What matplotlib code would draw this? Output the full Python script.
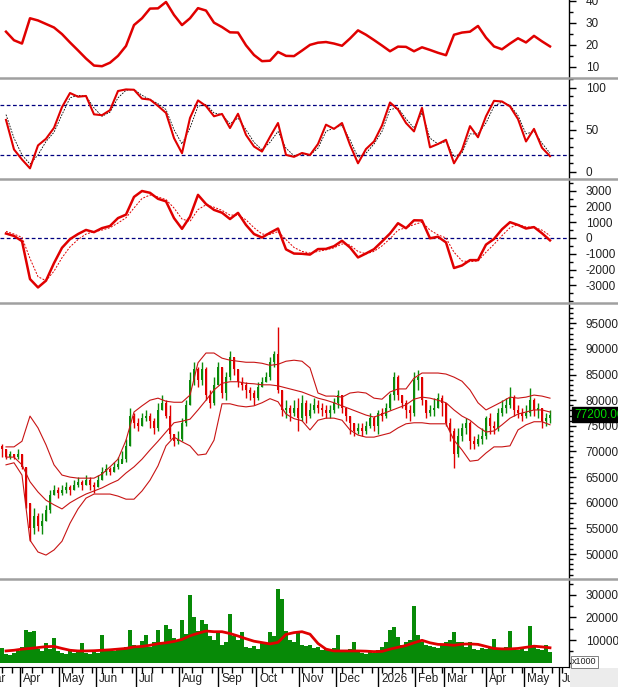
import numpy as np
import matplotlib
matplotlib.use("Agg")
import matplotlib.pyplot as plt
import matplotlib.transforms as mtransforms
from matplotlib.lines import Line2D
from matplotlib.patches import Rectangle
from matplotlib.ticker import MultipleLocator, FixedLocator

plt.rcParams['font.family'] = ['Liberation Sans', 'DejaVu Sans']
plt.rcParams['axes.unicode_minus'] = False

W, H = 618, 687

# one bar = two trading days, Mar 2025 .. May 2026
close = [
    70500, 69000, 69500, 69000, 69500, 67000, 60000, 55000, 57500, 55500,
    56500, 58500, 61500, 62500, 62000, 62500, 63000, 62500, 63500, 64000,
    63500, 64500, 63500, 63000, 64500, 66000, 66500, 66000, 67000, 67500,
    68500, 71000, 77000, 75500, 75000, 76500, 77000, 76000, 74500, 78000,
    79500, 77000, 73500, 72000, 72500, 75500, 79000, 84000, 86000, 84000,
    86000, 81000, 79500, 83000, 86500, 81500, 84500, 88500, 86000, 83500,
    83000, 82000, 81500, 80500, 82500, 83500, 84500, 87500, 89000, 82000,
    78000, 78500, 77500, 78500, 76500, 79500, 77000, 78000, 79000, 78500,
    78000, 77500, 78000, 79500, 81000, 78500, 77000, 75500, 74000, 74500,
    74000, 75000, 76500, 75000, 77500, 77000, 78500, 81000, 84500, 81000,
    79500, 78000, 77500, 84000, 84500, 80000, 77500, 78000, 78500, 80500,
    79500, 75500, 74000, 69500, 73000, 74500, 75500, 72000, 71500, 72500,
    73000, 76500, 75000, 74500, 77500, 78500, 79000, 80500, 78000, 77500,
    77000, 77500, 80000, 78000, 78500, 76000, 76500, 77200,
]
high = [
    71500, 70500, 70000, 69500, 70500, 69500, 67000, 60000, 59000, 58000,
    58000, 59500, 62500, 63500, 63000, 63500, 64000, 63500, 64500, 65000,
    64500, 65500, 65000, 64000, 65500, 67000, 67500, 67000, 68000, 69000,
    70000, 72500, 78500, 77500, 76500, 77500, 78000, 77500, 76500, 79500,
    81000, 80000, 79000, 73500, 74000, 76500, 80000, 85500, 87500, 86500,
    87500, 86500, 82000, 84500, 87500, 86500, 85500, 89500, 88500, 86000,
    84500, 83500, 82500, 82000, 83500, 84500, 85500, 88500, 89500, 94300,
    82000, 80000, 79000, 80000, 80500, 81000, 80000, 79500, 80500, 80000,
    79500, 79000, 79000, 80500, 82000, 81000, 78500, 77000, 75500, 75500,
    75500, 76000, 77500, 77000, 78000, 78500, 79500, 81500, 85500, 85000,
    81000, 80000, 79000, 85500, 85800, 84500, 80000, 79000, 80500, 81500,
    81000, 79500, 76500, 74500, 74500, 75500, 76500, 76000, 73000, 73500,
    74500, 77000, 77500, 76000, 78500, 80000, 80500, 82500, 81000, 79000,
    78500, 79000, 82300, 80500, 79500, 78500, 77500, 78000,
]
low = [
    69000, 68500, 68500, 68500, 68500, 66500, 59000, 52500, 54000, 54500,
    54000, 56500, 58000, 61500, 61000, 61500, 62000, 61500, 62500, 63000,
    62500, 63500, 62500, 62000, 63000, 64500, 65500, 65500, 66000, 66500,
    68000, 68000, 71000, 74500, 74000, 75000, 76000, 74500, 73500, 74000,
    78000, 76500, 72500, 71000, 71500, 72000, 75000, 79000, 83000, 82500,
    83000, 80000, 78500, 79000, 83000, 80500, 80000, 84000, 85000, 82500,
    82000, 80500, 80000, 79000, 80000, 82500, 83500, 84000, 86500, 81500,
    77000, 76500, 76000, 77000, 74000, 76000, 75500, 76500, 77500, 77500,
    77000, 76500, 76500, 77500, 78500, 77500, 76000, 73500, 73000, 73500,
    73000, 73500, 74500, 74000, 73500, 76000, 76500, 78000, 80000, 80000,
    78500, 76500, 76000, 77000, 82000, 79000, 76500, 77000, 77000, 78500,
    77000, 75000, 72000, 66800, 69000, 72000, 73500, 70500, 70500, 71000,
    71500, 72500, 73500, 73500, 74000, 77000, 77500, 78500, 77000, 76500,
    76000, 76500, 77000, 77000, 76500, 74500, 75000, 75500,
]
volume = [
    6500, 4000, 3500, 4500, 5000, 7000, 14400, 13500, 14000, 6000,
    5000, 8500, 6000, 10900, 5000, 4500, 4000, 5500, 4500, 5000,
    8800, 4500, 4000, 5000, 4500, 12200, 5500, 6000, 5000, 6500,
    5500, 7000, 14400, 8000, 7500, 9500, 12200, 7000, 9000, 14400,
    9000, 16600, 15000, 11000, 10000, 18800, 12500, 29800, 20000, 14000,
    18800, 17300, 12000, 10000, 13000, 8000, 9000, 21700, 12000, 10000,
    13700, 7000, 6500, 7500, 6000, 9000, 8500, 13700, 12000, 32800,
    28000, 14000, 10000, 9000, 13000, 8000, 7500, 8000, 6500, 7000,
    5500, 6000, 5000, 6500, 12200, 5500, 5000, 6000, 9200, 5000,
    4500, 4000, 5000, 4500, 5500, 7000, 9000, 14400, 15900, 11400,
    8000, 9000, 10000, 25000, 12200, 9000, 8000, 7500, 7000, 6500,
    8000, 9000, 10000, 13700, 9000, 9200, 7000, 9200, 6000, 5500,
    6500, 6000, 7000, 10400, 6000, 5500, 7000, 14100, 6000, 5500,
    6000, 5000, 16300, 7000, 6000, 5500, 8000, 4800,
]

# indicator lines, sampled every second bar (bars 1, 3, ..., 137)
bb_upper = [
    70900, 70900, 72000, 76900, 74600, 71300, 67400, 65400, 65000, 64800,
    64800, 64800, 65600, 67000, 68500, 72200, 77700, 78900, 80000, 80400,
    79800, 79600, 79600, 81000, 87300, 89200, 89200, 88200, 87800, 87600,
    87400, 87400, 87200, 86800, 87000, 87600, 87800, 87600, 86300, 81400,
    80800, 80800, 80600, 81400, 81600, 81400, 80400, 80200, 81600, 82200,
    82200, 84300, 85300, 85300, 85300, 85100, 84500, 83700, 82000, 79500,
    78100, 78900, 79700, 80600, 80400, 80600, 81000, 80800, 80400,
]
bb_mid = [
    68900, 68900, 67400, 64100, 62100, 60500, 59600, 58800, 60000, 60900,
    61700, 62300, 62900, 63700, 64400, 65800, 67000, 68500, 70300, 72000,
    73800, 75600, 75900, 76300, 78100, 80000, 82000, 83300, 83600, 83600,
    83300, 83200, 83000, 83000, 82800, 82400, 82000, 81600, 81000, 80400,
    80000, 79500, 78900, 78300, 77700, 77100, 76700, 77300, 77900, 78500,
    79100, 80200, 80600, 80400, 80000, 79500, 78100, 76900, 76100, 74800,
    73800, 74000, 75200, 76500, 77300, 77700, 78100, 78100, 77700,
]
bb_lower = [
    67400, 67800, 65400, 52700, 50400, 49800, 50800, 52500, 56000, 58800,
    60900, 61700, 61700, 61700, 61300, 60700, 60700, 62300, 64400, 67200,
    71100, 72800, 71900, 71100, 69300, 69500, 72200, 79300, 79300, 78900,
    78700, 78900, 79500, 80300, 79700, 77300, 76400, 76000, 74200, 76100,
    76500, 76500, 76100, 74200, 73200, 72800, 72800, 73200, 73600, 74600,
    75400, 75600, 75600, 75400, 75400, 75400, 72200, 70300, 68100, 68300,
    69700, 70900, 70900, 71100, 74200, 75200, 75800, 75800, 75200,
]
adx = [
    25.9, 22.0, 20.5, 32.0, 31.0, 29.4, 27.8, 24.8, 21.0, 17.4,
    13.7, 10.5, 10.2, 11.8, 14.9, 19.4, 28.9, 32.0, 36.4, 36.5,
    39.4, 33.5, 28.9, 32.0, 36.6, 35.5, 30.0, 28.0, 25.6, 25.5,
    19.7, 15.3, 12.5, 12.7, 16.7, 14.9, 14.8, 17.3, 19.9, 20.9,
    21.2, 20.5, 19.5, 22.8, 26.5, 24.5, 22.1, 19.6, 17.0, 19.1,
    19.0, 17.0, 18.8, 17.6, 16.3, 15.2, 24.5, 25.5, 25.9, 28.5,
    23.2, 19.2, 17.9, 20.5, 22.9, 21.0, 24.0, 21.5, 19.2,
]
stoch_k = [
    61.7, 26.5, 14.5, 4.0, 31.3, 39.2, 52.2, 76.9, 93.7, 89.3,
    90.2, 68.3, 67.3, 73.3, 96.1, 98.0, 97.6, 87.0, 85.9, 78.4,
    70.0, 40.0, 22.0, 64.0, 84.9, 78.2, 66.0, 68.8, 52.0, 69.0,
    43.8, 30.0, 24.0, 41.5, 58.0, 20.0, 17.7, 22.3, 19.9, 33.0,
    56.0, 51.0, 58.0, 32.0, 10.0, 27.0, 36.0, 55.0, 82.4, 74.0,
    58.0, 48.0, 76.0, 29.0, 33.0, 38.0, 10.0, 26.0, 54.3, 41.0,
    66.0, 84.4, 83.6, 77.8, 62.7, 36.0, 51.0, 28.5, 18.5,
]
stoch_d = [
    68, 40, 20, 9, 20, 36, 47, 68, 88, 91,
    90, 76, 66, 71, 88, 97, 98, 91, 86, 81,
    74, 50, 33, 52, 78, 80, 70, 68, 57, 64,
    50, 35, 26, 35, 48, 28, 19, 21, 20, 28,
    48, 52, 55, 38, 17, 22, 33, 48, 74, 76,
    63, 52, 70, 40, 33, 36, 18, 22, 45, 45,
    58, 78, 83, 79, 67, 45, 48, 34, 22,
]
macd = [
    283, 130, -200, -2600, -3130, -2700, -1590, -620, -70, 250,
    510, 370, 625, 760, 1261, 1480, 2600, 2975, 2860, 2480,
    2320, 1260, 580, 1350, 2730, 2150, 1780, 1600, 1200, 1590,
    826, 250, 30, 330, 600, -720, -985, -1000, -1050, -700,
    -690, -520, -175, -600, -1230, -980, -710, -220, 283, 935,
    620, 1120, 1110, -20, 80, -280, -1900, -1740, -1400, -1400,
    -420, -60, 550, 1000, 826, 600, 690, 300, -150,
]
macd_signal = [
    420, 250, 40, -1300, -2450, -2700, -2100, -1250, -560, -100,
    250, 400, 500, 650, 950, 1280, 1900, 2500, 2720, 2600,
    2430, 1900, 1200, 1050, 1800, 2100, 1950, 1750, 1450, 1450,
    1150, 650, 250, 230, 400, -100, -600, -850, -950, -850,
    -750, -620, -380, -450, -850, -1000, -850, -500, -50, 500,
    650, 850, 1000, 500, 200, 0, -900, -1450, -1500, -1450,
    -900, -400, 150, 650, 850, 700, 680, 500, 150,
]
vol_ma = [
    5200, 5500, 6000, 6300, 6700, 7100, 7200, 6300, 5500, 5200,
    5200, 5300, 5500, 5700, 6000, 6300, 7000, 7200, 7700, 8400,
    8800, 9400, 10300, 11900, 13000, 14000, 13700, 13700, 12900, 11800,
    10600, 9500, 8900, 8300, 9000, 12500, 13300, 13700, 12600, 8500,
    6000, 5200, 5200, 5200, 5200, 5100, 4900, 5000, 6000, 6800,
    7600, 8800, 9900, 8800, 8100, 8000, 7700, 8200, 8300, 8100,
    7200, 6300, 6100, 6100, 6300, 6800, 7300, 7000, 6600,
]

month_labels = ['Mar', 'Apr', 'May', 'Jun', 'Jul', 'Aug', 'Sep', 'Oct', 'Nov',
                'Dec', '2026', 'Feb', 'Mar', 'Apr', 'May', 'Jun']
month_pos = [-5.0, 4.5, 14.25, 23.5, 33.5, 44.25, 54.0, 63.5, 74.25, 83.5,
             94.0, 103.25, 110.5, 121.0, 130.5, 139.25]
last_price = 77200

RED = '#e00000'
GREEN = '#0a8a0a'
NAVY = '#000080'
XLIM = (-0.5, 141.75)

x = np.arange(len(close))
xs = np.arange(1, len(close), 2)
opens = [71000] + close[:-1]

fig = plt.figure(figsize=(W / 100, H / 100), dpi=100)
fig.patch.set_facecolor('white')


def panel(top, bottom):
    ax = fig.add_axes([0, 1 - bottom / H, 569 / W, (bottom - top) / H])
    for s in ('left', 'top', 'bottom'):
        ax.spines[s].set_visible(False)
    ax.spines['right'].set_color('black')
    ax.spines['right'].set_linewidth(1)
    ax.set_xticks([])
    ax.yaxis.tick_right()
    ax.tick_params(axis='y', which='major', direction='out', length=5, width=1,
                   pad=7, labelsize=8.5, labelcolor='#202020')
    ax.tick_params(axis='y', which='minor', direction='out', length=3, width=1)
    return ax


ax1 = panel(0, 77)
ax2 = panel(79, 178)
ax3 = panel(180, 302)
ax4 = panel(304, 578)
ax5 = panel(580, 667)

# ADX
ax1.plot(xs, adx, color=RED, lw=1.8)
ax1.set_ylim(5.3, 40.3)
ax1.yaxis.set_major_locator(FixedLocator([10, 20, 30, 40]))
ax1.yaxis.set_minor_locator(MultipleLocator(5))

# Stochastic
ax2.axhline(80, color=NAVY, lw=0.9, ls=(0, (3, 2)))
ax2.axhline(20, color=NAVY, lw=0.9, ls=(0, (3, 2)))
ax2.plot(xs, stoch_d, color='black', lw=0.6, ls=(0, (2, 1.5)))
ax2.plot(xs, stoch_k, color=RED, lw=1.5)
ax2.set_ylim(-7.5, 110.4)
ax2.yaxis.set_major_locator(FixedLocator([0, 50, 100]))
ax2.yaxis.set_minor_locator(MultipleLocator(10))

# MACD
ax3.axhline(0, color=NAVY, lw=0.9, ls=(0, (3, 2)))
ax3.plot(xs, macd_signal, color=RED, lw=0.7, ls=(0, (2, 1.5)))
ax3.plot(xs, macd, color=RED, lw=1.8)
ax3.set_ylim(-4051, 3671)
ax3.yaxis.set_major_locator(FixedLocator(range(-3000, 3001, 1000)))
ax3.yaxis.set_minor_locator(MultipleLocator(500))

# price with Bollinger bands
colors = [GREEN if c > o else RED for o, c in zip(opens, close)]
ax4.vlines(x, low, high, colors=colors, lw=1)
body_lo = np.minimum(opens, close)
body_h = np.maximum(np.abs(np.array(close) - np.array(opens)), 150)
ax4.bar(x, body_h, bottom=body_lo, width=0.5, color=colors, linewidth=0)
for band in (bb_upper, bb_mid, bb_lower):
    ax4.plot(xs, band, color='#c81414', lw=0.8)
ax4.set_ylim(45330, 98760)
ax4.yaxis.set_major_locator(FixedLocator(range(50000, 95001, 5000)))
ax4.yaxis.set_minor_locator(MultipleLocator(1000))
tag = mtransforms.blended_transform_factory(fig.transFigure, ax4.transData)
ax4.text(574 / W, last_price, '%.2f' % last_price, transform=tag, color='#00dd00',
         fontsize=8.5, va='center', ha='left', clip_on=False, zorder=10,
         bbox=dict(boxstyle='square,pad=0.15', fc='black', ec='black'))

# volume
ax5.bar(x, volume, width=0.92, color='#078a07', linewidth=0)
ax5.plot(xs, vol_ma, color=RED, lw=2)
ax5.set_ylim(-1900, 36560)
ax5.yaxis.set_major_locator(FixedLocator([10000, 20000, 30000]))
ax5.yaxis.set_minor_locator(MultipleLocator(5000))
ax5.spines['bottom'].set_visible(True)
ax5.spines['bottom'].set_color('black')
ax5.set_xticks(month_pos)
ax5.set_xticklabels([])
ax5.set_xticks(np.arange(-5, 141, 2.5), minor=True)
ax5.tick_params(axis='x', which='major', direction='out', length=15, width=1)
ax5.tick_params(axis='x', which='minor', direction='out', length=4, width=1)
dt = mtransforms.blended_transform_factory(ax5.transData, fig.transFigure)
for pos, lab in zip(month_pos, month_labels):
    ax5.text(pos + 0.8, 1 - 679 / H, lab, transform=dt, fontsize=8.5,
             color='#202020', ha='left', va='center', clip_on=False)

for ax in (ax1, ax2, ax3, ax4, ax5):
    ax.set_xlim(*XLIM)

# panel separators
for yy in (78, 179, 303, 579):
    fig.add_artist(Line2D([0, 1], [1 - yy / H] * 2, transform=fig.transFigure,
                          color='#a0a0a0', lw=1.8))

fig.add_artist(Rectangle((570 / W, 0), (W - 570) / W, 19 / H, transform=fig.transFigure,
                         facecolor='#ececec', edgecolor='none', zorder=5))
fig.text(572 / W, 1 - 662 / H, 'x1000', fontsize=6.5, color='#202020', va='center',
         ha='left', zorder=6,
         bbox=dict(boxstyle='square,pad=0.15', fc='white', ec='#808080', lw=0.7))

fig.savefig('out.png', dpi=100, facecolor='white')
